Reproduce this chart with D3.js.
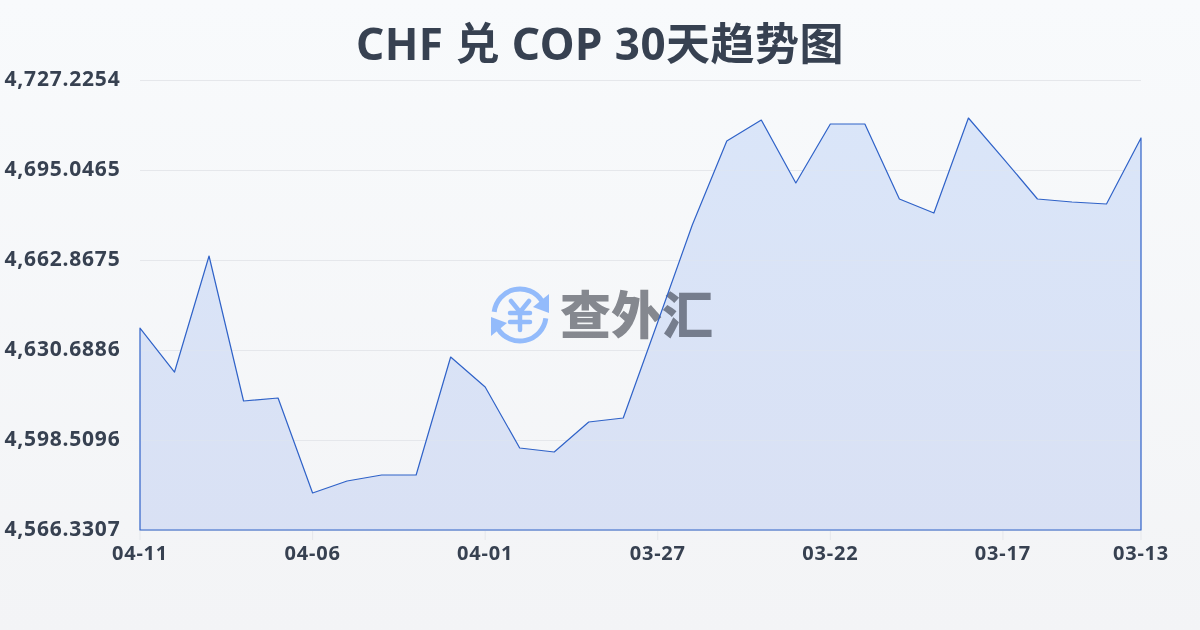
<!DOCTYPE html>
<html><head><meta charset="utf-8">
<script src="https://cdn.jsdelivr.net/npm/d3@7/dist/d3.min.js"></script>
<style>html,body{margin:0;padding:0;width:1200px;height:630px;overflow:hidden;background:#f8fafc}
svg{display:block}text{font-family:"Noto Sans","Noto Sans CJK SC",sans-serif}</style></head>
<body><svg id="c" width="1200" height="630"></svg>
<script>
const title = "CHF 兑 COP 30天趋势图";
const watermarkText = "查外汇";
const dates = ["04-11","04-10","04-09","04-08","04-07","04-06","04-05","04-04","04-03","04-02","04-01","03-31","03-30","03-29","03-28","03-27","03-26","03-25","03-24","03-23","03-22","03-21","03-20","03-19","03-18","03-17","03-16","03-15","03-14","03-13"];
const values = [4638.55,4622.82,4664.30,4612.45,4613.53,4579.56,4583.85,4585.99,4585.99,4628.18,4617.46,4595.65,4594.22,4604.94,4606.37,4640.70,4675.38,4705.41,4712.92,4690.40,4711.49,4711.49,4684.68,4679.67,4713.64,4699.33,4684.68,4683.60,4682.89,4706.49];
const yTicks = [4566.3307,4598.5096,4630.6886,4662.8675,4695.0465,4727.2254];
const xTickEvery = 5;

const svg = d3.select("#c");
const m = {l:140,r:1141,t:80,b:530};
const defs = svg.append("defs");
const bg = defs.append("linearGradient").attr("id","bg").attr("x1",0).attr("y1",0).attr("x2",0).attr("y2",1);
bg.append("stop").attr("offset",0).attr("stop-color","#f8fafc");
bg.append("stop").attr("offset",1).attr("stop-color","#f3f4f6");
const ag = defs.append("linearGradient").attr("id","ag").attr("gradientUnits","userSpaceOnUse").attr("x1",0).attr("y1",m.t).attr("x2",0).attr("y2",m.b);
ag.append("stop").attr("offset",0).attr("stop-color","#d9e5f9");
ag.append("stop").attr("offset",1).attr("stop-color","#d8e0f4");
svg.append("rect").attr("width",1200).attr("height",630).attr("fill","url(#bg)");

const x = d3.scaleLinear().domain([0,dates.length-1]).range([m.l,m.r]);
const y = d3.scaleLinear().domain([yTicks[0],yTicks[yTicks.length-1]]).range([m.b,m.t]);
const fmt = d3.format(",.4f");

svg.append("g").selectAll("line").data(yTicks).join("line")
  .attr("x1",m.l).attr("x2",m.r).attr("y1",d=>Math.round(y(d))+.5).attr("y2",d=>Math.round(y(d))+.5)
  .attr("stroke","#e5e7eb").attr("stroke-width",1);

const xIdx = d3.range(0,dates.length,xTickEvery).concat([dates.length-1]);
svg.append("g").selectAll("line").data(xIdx).join("line")
  .attr("x1",d=>x(d)).attr("x2",d=>x(d)).attr("y1",m.b).attr("y2",m.b+10)
  .attr("stroke","#e5e7eb");

const area = d3.area().x((d,i)=>x(i)).y0(m.b).y1(d=>y(d));
svg.append("path").datum(values).attr("d",area).attr("fill","url(#ag)").attr("fill-opacity",.96);
svg.append("g").selectAll("line").data(yTicks).join("line")
  .attr("x1",m.l).attr("x2",m.r).attr("y1",d=>Math.round(y(d))+.5).attr("y2",d=>Math.round(y(d))+.5)
  .attr("stroke","#e5e7eb").attr("stroke-opacity",.3);

// watermark
const wm = svg.append("g");
const ic = wm.append("g").attr("transform","translate(520,315)").attr("fill","none").attr("stroke","#93bbfb");
ic.append("path").attr("stroke-width",5).attr("stroke-linecap","round").attr("d",d3.arc()({innerRadius:26,outerRadius:26,startAngle:-1.45,endAngle:1.0}));
ic.append("path").attr("stroke-width",5).attr("stroke-linecap","round").attr("d",d3.arc()({innerRadius:26,outerRadius:26,startAngle:1.7,endAngle:4.15}));
ic.append("path").attr("fill","#93bbfb").attr("stroke","none").attr("d",d3.line()([[29,-21],[29,-2],[13,-8]]));
ic.append("path").attr("fill","#93bbfb").attr("stroke","none").attr("d",d3.line()([[-29,21],[-29,2],[-13,8]]));
ic.append("path").attr("stroke-width",4.5).attr("stroke-linecap","round").attr("stroke-linejoin","round").attr("d","M-9,-14L0,-3L9,-14M-10,-2H10M-10,7H10M0,-3V15");
wm.append("text").attr("x",560).attr("y",334).attr("font-size",51).attr("font-weight",900)
  .attr("fill","#8a8c92").style("mix-blend-mode","multiply").style("font-family",'"Noto Sans CJK SC"').text(watermarkText);

svg.append("path").datum(values).attr("d",area).attr("fill","none")
  .attr("stroke","#2f62c8").attr("stroke-width",1.2).attr("stroke-linejoin","round");

svg.append("g").selectAll("text").data(yTicks).join("text")
  .attr("x",120.5).attr("y",d=>y(d)+6).attr("text-anchor","end").attr("font-size",21).attr("font-weight",700)
  .attr("letter-spacing",.8).attr("fill","#374151").text(d=>fmt(d));
svg.append("g").selectAll("text").data(xIdx).join("text")
  .attr("x",d=>x(d)).attr("y",560).attr("text-anchor","middle").attr("font-size",20).attr("font-weight",700)
  .attr("letter-spacing",.8).attr("fill","#374151").text(d=>dates[d]);
svg.append("text").attr("x",600).attr("y",60).attr("text-anchor","middle").attr("font-size",44).attr("font-weight",700)
  .attr("letter-spacing",.5).attr("fill","#374151").text(title);
</script></body></html>
